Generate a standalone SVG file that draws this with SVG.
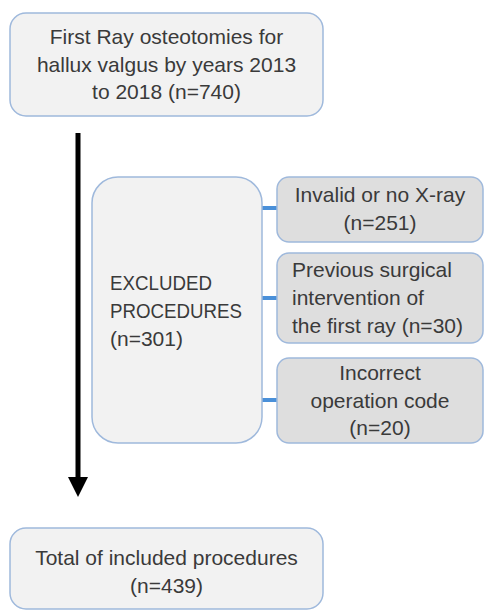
<svg xmlns="http://www.w3.org/2000/svg" width="485" height="611" viewBox="0 0 485 611">
  <style>
    .box { fill: #f2f2f2; stroke: #9fb9dc; stroke-width: 1.5; }
    .sub { fill: #dedede; stroke: #9fb9dc; stroke-width: 1.5; }
    text { font-family: "Liberation Sans", Arial, sans-serif; font-size: 21px; fill: #3a3a3a; }
    .c { text-anchor: middle; }
    .link { stroke: #4a90d9; stroke-width: 4; fill: none; }
    .main { stroke: #000; stroke-width: 5; fill: none; }
  </style>
  <defs>
    <marker id="arrow" markerUnits="userSpaceOnUse" markerWidth="20" markerHeight="20" refX="0" refY="10" orient="auto" viewBox="0 0 20 20">
      <polygon points="0,0 20,10 0,20" fill="#000"/>
    </marker>
  </defs>
  <rect width="485" height="611" fill="#ffffff"/>
  <g id="connectors">
    <line class="main" x1="78" y1="133" x2="78" y2="477" marker-end="url(#arrow)"/>
    <line class="link" x1="262" y1="208" x2="277" y2="208"/>
    <line class="link" x1="262" y1="298" x2="277" y2="298"/>
    <line class="link" x1="262" y1="400" x2="277" y2="400"/>
  </g>
  <g id="node-total-osteotomies">
    <rect class="box" x="10" y="13" width="313" height="103" rx="16"/>
    <text class="c" x="166.5" y="44">First Ray osteotomies for</text>
    <text class="c" x="166.5" y="72">hallux valgus by years 2013</text>
    <text class="c" x="166.5" y="99">to 2018 (n=740)</text>
  </g>
  <g id="node-excluded">
    <rect class="box" x="92" y="177" width="170" height="266" rx="26"/>
    <text x="110" y="290" textLength="102" lengthAdjust="spacingAndGlyphs">EXCLUDED</text>
    <text x="110" y="318" textLength="132" lengthAdjust="spacingAndGlyphs">PROCEDURES</text>
    <text x="110" y="346">(n=301)</text>
  </g>
  <g id="node-invalid-xray">
    <rect class="sub" x="277" y="177" width="206" height="65" rx="12"/>
    <text class="c" x="380" y="202">Invalid or no X-ray</text>
    <text class="c" x="380" y="230">(n=251)</text>
  </g>
  <g id="node-previous-surgery">
    <rect class="sub" x="277" y="253" width="206" height="90" rx="12"/>
    <text x="292" y="277">Previous surgical</text>
    <text x="292" y="305">intervention of</text>
    <text x="292" y="333">the first ray (n=30)</text>
  </g>
  <g id="node-incorrect-code">
    <rect class="sub" x="277" y="358" width="206" height="85" rx="12"/>
    <text class="c" x="380" y="380">Incorrect</text>
    <text class="c" x="380" y="408">operation code</text>
    <text class="c" x="380" y="435">(n=20)</text>
  </g>
  <g id="node-included">
    <rect class="box" x="10" y="528" width="313" height="81" rx="16"/>
    <text class="c" x="166.5" y="565">Total of included procedures</text>
    <text class="c" x="166.5" y="593">(n=439)</text>
  </g>
</svg>
